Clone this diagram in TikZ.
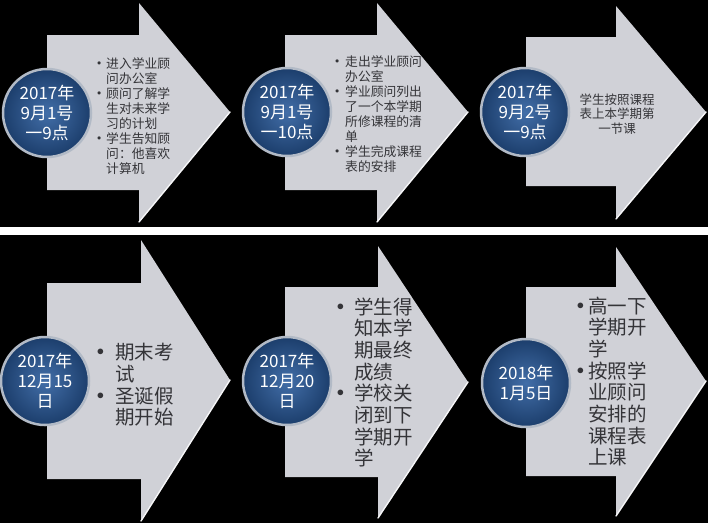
\documentclass[tikz,border=0pt]{standalone}
\usepackage{fontspec}
\newfontfamily\cjk{Noto Sans CJK SC}
\definecolor{arrowgray}{RGB}{208,209,215}
\definecolor{edgewhite}{RGB}{246,246,248}
\definecolor{datelight}{RGB}{66,110,168}
\definecolor{datedark}{RGB}{28,62,108}
\definecolor{rimgray}{RGB}{178,186,198}
\definecolor{stepgray}{RGB}{52,52,56}
\newcommand{\bul}[1]{\makebox[#1][l]{\raisebox{0.2em}{\scalebox{0.7}{$\bullet$}}}}
\newcommand{\ind}[1]{\hspace*{#1}}

\begin{document}
\begin{tikzpicture}[x=1pt,y=-1pt]
\tikzstyle{arrow shape}=[fill=arrowgray]
\tikzstyle{arrow edge}=[draw=edgewhite,line width=1.4pt,line cap=round]
\tikzstyle{date}=[circle,minimum size=88pt,inner sep=0pt,inner color=datelight,outer color=datedark,draw=rimgray,line width=2.5pt,text=white,align=center,font=\cjk\fontsize{17}{20}\selectfont]
\tikzstyle{steps small}=[anchor=west,inner sep=0pt,align=left,text=stepgray,font=\cjk\fontsize{12.8}{15}\selectfont]
\tikzstyle{steps large}=[steps small,font=\cjk\fontsize{19.5}{21.7}\selectfont]

% Background and separator
\useasboundingbox (0,0) rectangle (708,523);
\fill[black] (0,0) rectangle (708,523);
\fill[white] (0,227) rectangle (708,235);

% Draw the arrows
\foreach \L/\N/\T/\bt/\bb/\ht/\hb/\c in {47/139/230/35/190/3/222/112,
  285/377/468/35/190/3/222/112, 526/616/706/37/186/6/219/112,
  47/141/230/283/479/240/521/380, 285/378/468/287/477/246/518/382,
  526/616/706/287/476/247/516/381}
{
\fill[arrow shape] (\L,\bt) -- (\N,\bt) -- (\N,\ht) -- (\T,\c) -- (\N,\hb)
  -- (\N,\bb) -- (\L,\bb) -- cycle;
\draw[arrow edge] (\T,\c) -- (\N,\hb);
}

% Write the steps
\node[steps small] (T-1) at (96.8,116) {\bul{9.2pt}进入学业顾\\ \ind{9.2pt}问办公室\\
  \bul{9.2pt}顾问了解学\\ \ind{9.2pt}生对未来学\\ \ind{9.2pt}习的计划\\
  \bul{9.2pt}学生告知顾\\ \ind{9.2pt}问：他喜欢\\ \ind{9.2pt}计算机};
\node[steps small] (T-2) at (334.8,114) {\bul{10.2pt}走出学业顾问\\ \ind{10.2pt}办公室\\
  \bul{10.2pt}学业顾问列出\\ \ind{10.2pt}了一个本学期\\ \ind{10.2pt}所修课程的清\\ \ind{10.2pt}单\\
  \bul{10.2pt}学生完成课程\\ \ind{10.2pt}表的安排};
\node[steps small,anchor=center,align=center,font=\cjk\fontsize{12.5}{14.5}\selectfont]
  (T-3) at (617,114) {学生按照课程\\表上本学期第\\一节课};
\node[steps large] (T-4) at (96.6,385) {\bul{18.4pt}期末考\\ \ind{18.4pt}试\\
  \bul{18.4pt}圣诞假\\ \ind{18.4pt}期开始};
\node[steps large] (T-5) at (336.6,382.5) {\bul{17.4pt}学生得\\ \ind{17.4pt}知本学\\
  \ind{17.4pt}期最终\\ \ind{17.4pt}成绩\\ \bul{17.4pt}学校关\\ \ind{17.4pt}闭到下\\
  \ind{17.4pt}学期开\\ \ind{17.4pt}学};
\node[steps large] (T-6) at (576.6,381.5) {\bul{11.4pt}高一下\\ \ind{11.4pt}学期开\\
  \ind{11.4pt}学\\ \bul{11.4pt}按照学\\ \ind{11.4pt}业顾问\\ \ind{11.4pt}安排的\\
  \ind{11.4pt}课程表\\ \ind{11.4pt}上课};

% Draw the date circles
\node[date] (D-1) at (47,113) {2017年\\9月1号\\一9点};
\node[date] (D-2) at (287,112) {2017年\\9月1号\\一10点};
\node[date] (D-3) at (525,112) {2017年\\9月2号\\一9点};
\node[date] (D-4) at (45,381) {2017年\\12月15\\日};
\node[date] (D-5) at (287,381) {2017年\\12月20\\日};
\node[date] (D-6) at (526,383) {2018年\\1月5日};

\end{tikzpicture}
\end{document}
